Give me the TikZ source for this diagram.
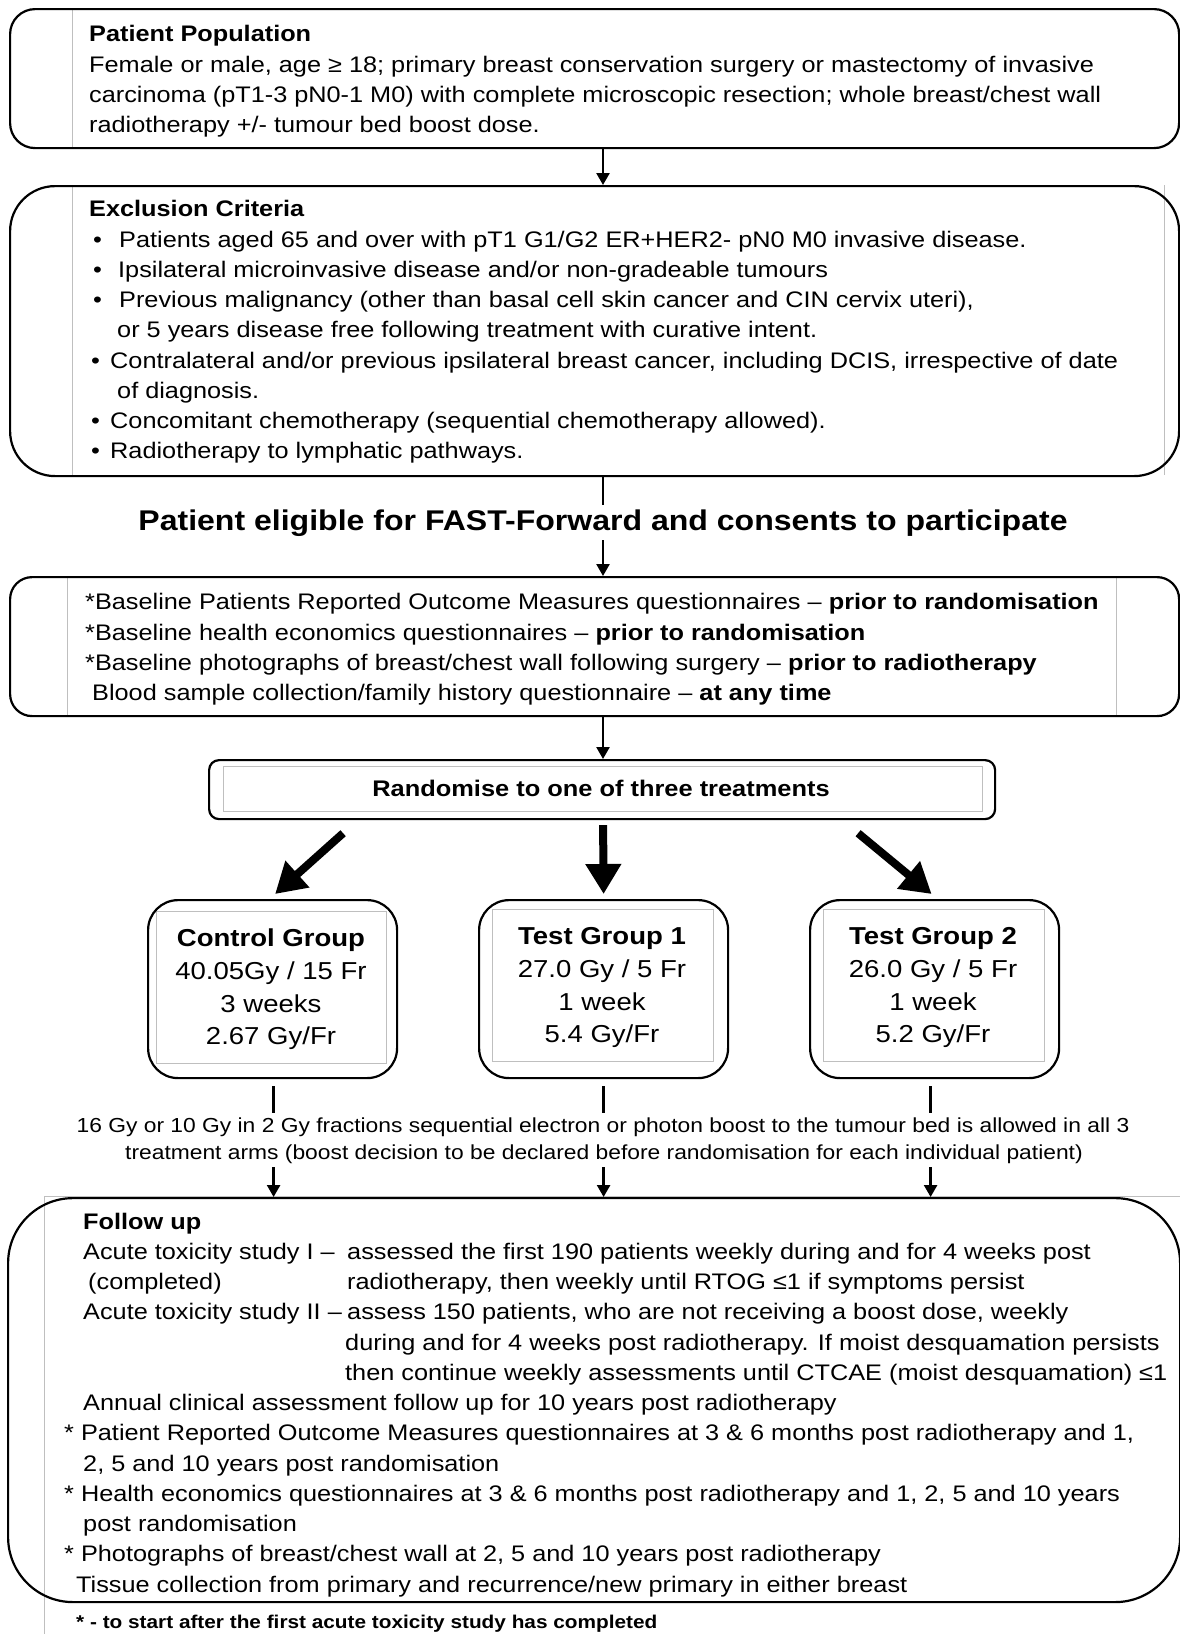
\documentclass[tikz,border=0pt]{standalone}
\usepackage{fontspec}
\setmainfont{Liberation Sans}[FakeStretch=1.124]
\usetikzlibrary{arrows.meta,calc}
\tikzset{
  box/.style={draw, line width=2.2pt, inner sep=0pt, anchor=north west},
  txt/.style={anchor=base west, inner sep=0pt, font=\fontsize{22.5}{27}\selectfont},
  ctxt/.style={anchor=base, inner sep=0pt, font=\fontsize{24.5}{30}\selectfont},
  btxt/.style={anchor=base, inner sep=0pt, font=\fontsize{20.3}{25}\selectfont},
  faint/.style={draw=black!25, line width=0.9pt},
  sarrow/.style={line width=2.5pt, -{Triangle[length=12pt,width=13pt]}},
  sline/.style={line width=2.5pt},
  barrow/.style={line width=8pt, -{Triangle[length=30pt,width=34pt]}}
}
\begin{document}
\begin{tikzpicture}[x=1pt,y=-1pt]
\useasboundingbox (0,0) rectangle (1180,1634);
% faint text-frame lines
\draw[faint] (72,8) -- (72,147);
\draw[faint] (72,185) -- (72,475);
\draw[faint] (1164,185) -- (1164,475);
\draw[faint] (67,576) -- (67,715);
\draw[faint] (1116,576) -- (1116,715);
\draw[faint] (223,766) rectangle (982,811);
\draw[faint] (156,911) rectangle (386,1063);
\draw[faint] (492,909) rectangle (713,1061);
\draw[faint] (823,909) rectangle (1044,1061);
\draw[faint] (1180,1196) -- (44,1196) -- (44,1634);

% boxes
\node[box, minimum width=1169pt, minimum height=139pt, rounded corners=25pt] (pop) at (9,8) {};
\node[box, minimum width=1169pt, minimum height=290pt, rounded corners=45pt] (excl) at (9,185) {};
\node[box, minimum width=1169pt, minimum height=139pt, rounded corners=22pt] (base) at (9,576) {};
\node[box, minimum width=786pt, minimum height=59pt, rounded corners=10pt] (rand) at (208,759) {};
\node[box, minimum width=249pt, minimum height=178pt, rounded corners=30pt] (ctrl) at (147,899) {};
\node[box, minimum width=249pt, minimum height=178pt, rounded corners=30pt] (tga) at (478,899) {};
\node[box, minimum width=249pt, minimum height=178pt, rounded corners=30pt] (tgb) at (809,899) {};
\node[box, minimum width=1172pt, minimum height=404pt, rounded corners=65pt] (fu) at (7,1197) {};

% box 1
\node[txt] (p0) at (89,41) {\textbf{Patient Population}};
\node[txt] (p1) at (89,72) {Female or male, age ≥ 18; primary breast conservation surgery or mastectomy of invasive};
\node[txt] (p2) at (89,102) {carcinoma (pT1-3 pN0-1 M0) with complete microscopic resection; whole breast/chest wall};
\node[txt] (p3) at (89,132) {radiotherapy +/- tumour bed boost dose.};

% box 2
\node[txt] (e0) at (89,216) {\textbf{Exclusion Criteria}};
\node[txt] (eb1) at (93,247) {•};
\node[txt] (e1) at (119,247) {Patients aged 65 and over with pT1 G1/G2 ER+HER2- pN0 M0 invasive disease.};
\node[txt] (eb2) at (93,277) {•};
\node[txt] (e2) at (118,277) {Ipsilateral microinvasive disease and/or non-gradeable tumours};
\node[txt] (eb3) at (93,307) {•};
\node[txt] (e3) at (119,307) {Previous malignancy (other than basal cell skin cancer and CIN cervix uteri),};
\node[txt] (e3b) at (117,337) {or 5 years disease free following treatment with curative intent.};
\node[txt] (eb4) at (91,368) {•};
\node[txt] (e4) at (110,368) {Contralateral and/or previous ipsilateral breast cancer, including DCIS, irrespective of date};
\node[txt] (e4b) at (117,398) {of diagnosis.};
\node[txt] (eb5) at (91,428) {•};
\node[txt] (e5) at (110,428) {Concomitant chemotherapy (sequential chemotherapy allowed).};
\node[txt] (eb6) at (91,458) {•};
\node[txt] (e6) at (110,458) {Radiotherapy to lymphatic pathways.};

% eligibility title
\node[anchor=base, inner sep=4pt, font=\fontsize{28.5}{32}\selectfont\bfseries] (elig) at (603,530) {Patient eligible for FAST-Forward and consents to participate};

% box 3
\node[txt] (q1) at (85,609) {*Baseline Patients Reported Outcome Measures questionnaires – \textbf{prior to randomisation}};
\node[txt] (q2) at (85,640) {*Baseline health economics questionnaires – \textbf{prior to randomisation}};
\node[txt] (q3) at (85,670) {*Baseline photographs of breast/chest wall following surgery – \textbf{prior to radiotherapy}};
\node[txt] (q4) at (92,700) {Blood sample collection/family history questionnaire – \textbf{at any time}};

% randomise
\node[anchor=base, inner sep=0pt, font=\fontsize{22.6}{26}\selectfont\bfseries] (randt) at (601,796) {Randomise to one of three treatments};

% groups
\node[ctxt] (c0) at (271,946) {\textbf{Control Group}};
\node[ctxt] (c1) at (271,979) {40.05Gy / 15 Fr};
\node[ctxt] (c2) at (271,1012) {3 weeks};
\node[ctxt] (c3) at (271,1044) {2.67 Gy/Fr};
\node[ctxt] (a0) at (602,944) {\textbf{Test Group 1}};
\node[ctxt] (a1) at (602,977) {27.0 Gy / 5 Fr};
\node[ctxt] (a2) at (602,1010) {1 week};
\node[ctxt] (a3) at (602,1042) {5.4 Gy/Fr};
\node[ctxt] (b0) at (933,944) {\textbf{Test Group 2}};
\node[ctxt] (b1) at (933,977) {26.0 Gy / 5 Fr};
\node[ctxt] (b2) at (933,1010) {1 week};
\node[ctxt] (b3) at (933,1042) {5.2 Gy/Fr};

% boost text
\node[btxt] (bo1) at (603,1132) {16 Gy or 10 Gy in 2 Gy fractions sequential electron or photon boost to the tumour bed is allowed in all 3};
\node[btxt] (bo2) at (604,1159) {treatment arms (boost decision to be declared before randomisation for each individual patient)};

% follow up
\node[txt] (f0) at (83,1229) {\textbf{Follow up}};
\node[txt] (f1) at (83,1259) {Acute toxicity study I –};
\node[txt] (f1b) at (347,1259) {assessed the first 190 patients weekly during and for 4 weeks post};
\node[txt] (f2) at (88,1289) {(completed)};
\node[txt] (f2b) at (347,1289) {radiotherapy, then weekly until RTOG ≤1 if symptoms persist};
\node[txt] (f3) at (83,1319) {Acute toxicity study II –};
\node[txt] (f3b) at (347,1319) {assess 150 patients, who are not receiving a boost dose, weekly};
\node[txt] (f4) at (345,1350) {during and for 4 weeks post radiotherapy. If moist desquamation persists};
\node[txt] (f5) at (345,1380) {then continue weekly assessments until CTCAE (moist desquamation) ≤1};
\node[txt] (f6) at (83,1410) {Annual clinical assessment follow up for 10 years post radiotherapy};
\node[txt] (f7) at (64,1440) {* Patient Reported Outcome Measures questionnaires at 3 \& 6 months post radiotherapy and 1,};
\node[txt] (f8) at (83,1471) {2, 5 and 10 years post randomisation};
\node[txt] (f9) at (64,1501) {* Health economics questionnaires at 3 \& 6 months post radiotherapy and 1, 2, 5 and 10 years};
\node[txt] (f10) at (83,1531) {post randomisation};
\node[txt] (f11) at (64,1561) {* Photographs of breast/chest wall at 2, 5 and 10 years post radiotherapy};
\node[txt] (f12) at (76,1592) {Tissue collection from primary and recurrence/new primary in either breast};

% footnote
\node[anchor=base west, inner sep=0pt, font=\fontsize{18.5}{22}\selectfont\bfseries] (note) at (76,1628) {* - to start after the first acute toxicity study has completed};

% connectors
\draw[sarrow] (pop.south -| elig) -- (excl.north -| elig);
\draw[sline] (excl.south -| elig) -- (elig.north);
\draw[sarrow] (elig.south) -- (base.north -| elig);
\draw[sarrow] (base.south -| elig) -- (rand.north -| elig);

\draw[barrow] ($(rand.south)+(-259,13)$) -- ($(ctrl.north)+(2.5,-5)$);
\draw[barrow] ($(rand.south)+(1,5)$) -- ($(tga.north)+(0,-5)$);
\draw[barrow] ($(rand.south)+(256,13)$) -- ($(tgb.north)+(-3,-5)$);

\draw[sline] ($(ctrl.south)+(1,7)$) -- ++(0,27);
\draw[sline] ($(tga.south)+(0,7)$) -- ++(0,27);
\draw[sline] ($(tgb.south)+(-4,7)$) -- ++(0,27);
\draw[sarrow] ($(ctrl.south)+(1,88)$) -- ($(ctrl.south |- fu.north)+(1,0)$);
\draw[sarrow] ($(tga.south)+(0,88)$) -- (tga.south |- fu.north);
\draw[sarrow] ($(tgb.south)+(-4,88)$) -- ($(tgb.south |- fu.north)+(-4,0)$);
\end{tikzpicture}
\end{document}
